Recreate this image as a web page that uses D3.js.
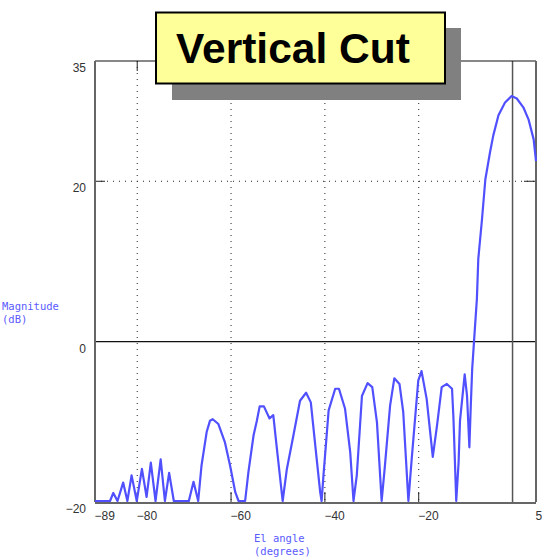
<!DOCTYPE html>
<html>
<head>
<meta charset="utf-8">
<script src="https://cdn.jsdelivr.net/npm/d3@7"></script>
<style>
  body { margin: 0; background: #fff; }
  svg { display: block; }
  .tick text { font-family: "Liberation Sans", Arial, sans-serif; font-size: 12px; fill: #333; }
</style>
</head>
<body>
<div id="chart"></div>
<script>
// elevation cut of the antenna pattern
const angles = [
  -89, -85.8, -85.1, -84.2, -83.0, -82.1, -81.2, -80.1, -79.0, -78.0,
  -77.1, -76.1, -75.0, -74.1, -73.2, -72.2, -69.0, -68.0, -67.0, -66.3,
  -65.2, -64.5, -63.9, -62.7, -61.3, -60.2, -59.1, -58.4, -57.0, -56.3,
  -55.2, -54.5, -53.9, -53.0, -51.8, -51.0, -50.3, -49.0, -48.1, -46.7,
  -45.3, -44.0, -43.0, -41.9, -41.0, -40.7, -40.3, -39.2, -37.8, -37.0,
  -35.7, -34.6, -33.9, -33.2, -32.1, -30.9, -29.9, -28.9, -27.9, -27.2,
  -26.1, -25.2, -24.1, -23.3, -22.2, -21.5, -20.1, -19.4, -18.3, -17.0,
  -16.1, -15.1, -14.0, -12.9, -12.6, -12.0, -11.5, -11.2, -10.2, -9.7,
  -9.2, -8.9, -8.6, -8.2, -7.6, -7.3, -6.5, -5.8, -4.8, -4.1,
  -3.0, -1.6, -0.2, 0.9, 2.3, 3.4, 4.5, 5.0
];
const magnitude = [
  -20, -20, -19.0, -20, -17.7, -20, -16.8, -20, -16.0, -19.5,
  -15.2, -20, -14.8, -20, -16.5, -20, -20, -17.6, -20, -15.6,
  -11.4, -10.0, -9.8, -10.4, -12.7, -15.6, -18.9, -20, -20, -16.4,
  -11.8, -10.0, -8.2, -8.2, -9.7, -9.3, -13.1, -20, -16.0, -11.8,
  -7.5, -6.5, -7.7, -13.9, -18.9, -20, -16.8, -8.7, -6.0, -6.0,
  -8.5, -13.9, -20, -16.8, -6.9, -5.3, -5.8, -10.2, -20, -15.6,
  -8.1, -4.7, -5.4, -8.9, -20, -14.8, -5.0, -3.8, -7.3, -14.5,
  -10.6, -5.8, -5.4, -6.0, -9.6, -20, -15.2, -10.0, -4.2, -6.9,
  -13.3, -8.1, -3.5, 0, 5.2, 10.2, 15.2, 20.1, 23.5, 25.6,
  28.1, 29.7, 30.5, 30.2, 29.1, 27.6, 25.1, 22.4
];

const xTicks = [-89, -80, -60, -40, -20, 5];
const yTicks = [-20, 0, 20, 35];
const xGrid = [-80, -60, -40, -20];
const yGrid = [20];

const width = 542, height = 558;
const plot = { left: 95, right: 536, top: 61, bottom: 502 };

const svg = d3.select('#chart').append('svg')
  .attr('width', width)
  .attr('height', height);

const x = d3.scaleLinear().domain([-89, 5]).range([plot.left, plot.right]);
const y = d3.scaleLinear().domain([-20, 35]).range([plot.bottom, plot.top]);

// dotted grid
svg.append('g').selectAll('line').data(xGrid).join('line')
  .attr('x1', d => x(d)).attr('x2', d => x(d))
  .attr('y1', plot.top).attr('y2', plot.bottom)
  .attr('stroke', '#222').attr('stroke-width', 1)
  .attr('stroke-dasharray', '1,5');
svg.append('g').selectAll('line').data(yGrid).join('line')
  .attr('x1', plot.left).attr('x2', plot.right)
  .attr('y1', d => y(d)).attr('y2', d => y(d))
  .attr('stroke', '#222').attr('stroke-width', 1)
  .attr('stroke-dasharray', '1,5');

// small inward ticks
const tickLen = 10;
svg.append('g').selectAll('line').data(xGrid).join('line')
  .attr('x1', d => x(d)).attr('x2', d => x(d))
  .attr('y1', plot.top).attr('y2', plot.top + tickLen)
  .attr('stroke', '#222');
svg.append('g').selectAll('line').data(xGrid).join('line')
  .attr('x1', d => x(d)).attr('x2', d => x(d))
  .attr('y1', plot.bottom - tickLen).attr('y2', plot.bottom)
  .attr('stroke', '#222');
svg.append('g').selectAll('line').data(yGrid).join('line')
  .attr('x1', plot.left).attr('x2', plot.left + tickLen)
  .attr('y1', d => y(d)).attr('y2', d => y(d))
  .attr('stroke', '#222');
svg.append('g').selectAll('line').data(yGrid).join('line')
  .attr('x1', plot.right - 12).attr('x2', plot.right)
  .attr('y1', d => y(d)).attr('y2', d => y(d))
  .attr('stroke', '#222');

// zero lines
svg.append('line')
  .attr('x1', plot.left).attr('x2', plot.right)
  .attr('y1', y(0)).attr('y2', y(0))
  .attr('stroke', '#111').attr('stroke-width', 1.2);
svg.append('line')
  .attr('x1', x(0)).attr('x2', x(0))
  .attr('y1', plot.top).attr('y2', plot.bottom)
  .attr('stroke', '#555').attr('stroke-width', 1.5);

// frame
svg.append('line')
  .attr('x1', plot.left).attr('x2', plot.right)
  .attr('y1', plot.top).attr('y2', plot.top)
  .attr('stroke', '#111').attr('stroke-width', 1);
svg.append('line')
  .attr('x1', plot.left).attr('x2', plot.left)
  .attr('y1', plot.top).attr('y2', plot.bottom)
  .attr('stroke', '#666').attr('stroke-width', 2);
svg.append('line')
  .attr('x1', plot.right).attr('x2', plot.right)
  .attr('y1', plot.top).attr('y2', plot.bottom)
  .attr('stroke', '#666').attr('stroke-width', 2);
svg.append('line')
  .attr('x1', plot.left).attr('x2', plot.right)
  .attr('y1', plot.bottom + 1).attr('y2', plot.bottom + 1)
  .attr('stroke', '#666').attr('stroke-width', 2);

// pattern curve (drawn over the frame so the clipped floor shows blue)
const line = d3.line()
  .x((d, i) => x(angles[i]))
  .y(d => y(d) - 1);
svg.append('path')
  .datum(magnitude)
  .attr('fill', 'none')
  .attr('stroke', '#5050ff')
  .attr('stroke-width', 2.2)
  .attr('stroke-linejoin', 'round')
  .attr('d', line);

// tick labels
const xAxis = svg.append('g')
  .attr('transform', `translate(0,${plot.bottom})`)
  .call(d3.axisBottom(x).tickValues(xTicks).tickSize(0).tickPadding(9).tickFormat(d3.format('d')));
xAxis.select('.domain').remove();
xAxis.selectAll('text').attr('text-anchor', 'start').attr('dx', -1);

const yAxis = svg.append('g')
  .attr('transform', `translate(${plot.left},0)`)
  .call(d3.axisLeft(y).tickValues(yTicks).tickSize(0).tickPadding(9).tickFormat(d3.format('d')));
yAxis.select('.domain').remove();
yAxis.selectAll('text').attr('dy', '0.87em');

// axis titles
const mono = '"DejaVu Sans Mono", monospace';
svg.append('text')
  .attr('x', 2).attr('y', 309.5)
  .attr('font-family', mono).attr('font-size', 10.5)
  .attr('fill', '#5a5aff')
  .text('Magnitude');
svg.append('text')
  .attr('x', 2).attr('y', 323)
  .attr('font-family', mono).attr('font-size', 10.5)
  .attr('fill', '#5a5aff')
  .text('(dB)');
svg.append('text')
  .attr('x', 254).attr('y', 541.5)
  .attr('font-family', mono).attr('font-size', 10.5)
  .attr('fill', '#5a5aff')
  .text('El angle');
svg.append('text')
  .attr('x', 254).attr('y', 555)
  .attr('font-family', mono).attr('font-size', 10.5)
  .attr('fill', '#5a5aff')
  .text('(degrees)');

// title box with drop shadow
svg.append('rect')
  .attr('x', 172).attr('y', 28)
  .attr('width', 289).attr('height', 72)
  .attr('fill', '#808080');
svg.append('rect')
  .attr('x', 156).attr('y', 12.5)
  .attr('width', 289).attr('height', 71)
  .attr('fill', '#ffff99')
  .attr('stroke', '#000').attr('stroke-width', 2);
svg.append('text')
  .attr('x', 176).attr('y', 63)
  .attr('font-family', '"Liberation Sans", Arial, sans-serif')
  .attr('font-weight', 'bold').attr('font-size', 42.5)
  .attr('fill', '#000')
  .text('Vertical Cut');
</script>
</body>
</html>
